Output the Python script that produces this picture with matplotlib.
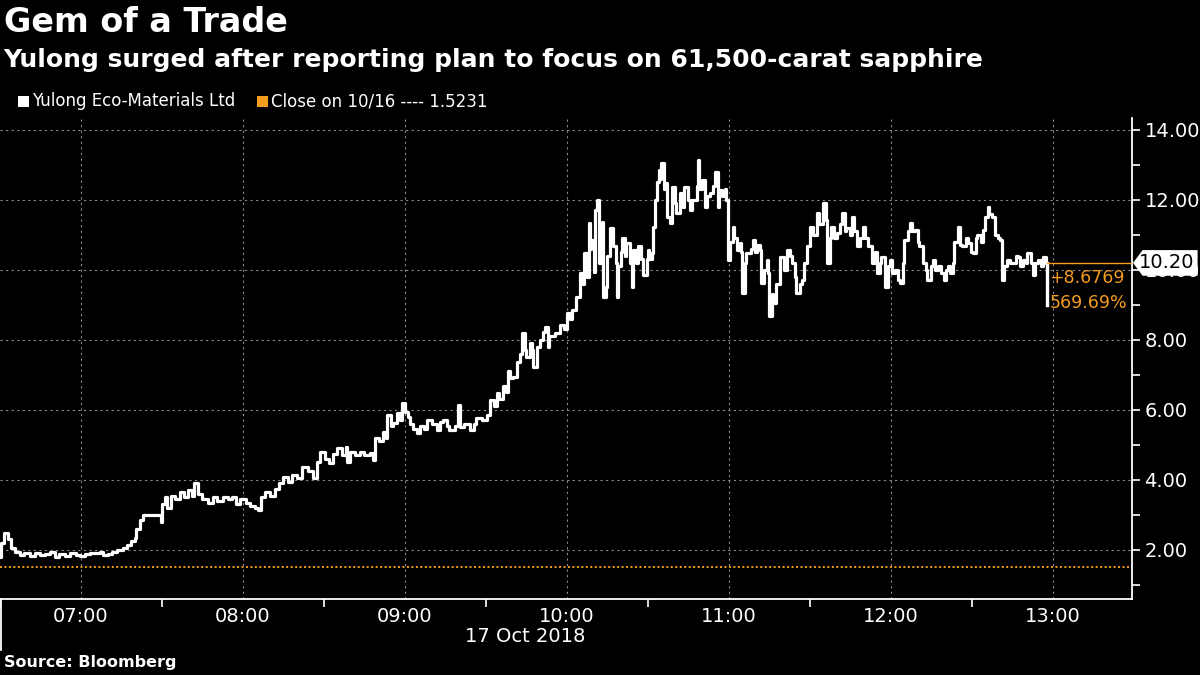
import numpy as np
import matplotlib.pyplot as plt
from matplotlib.patches import Polygon

# minutes after 06:30 and price (USD)
mins = [0, 0.5, 1.5, 3, 4, 5.5, 7.5, 9, 11, 13, 15, 16.5, 18.5, 20.5, 22, 24, 26, 28, 29.5, 31.5,
        33.5, 35, 37, 38, 40, 41.5, 43.5, 45.5, 47, 48.5, 50, 50.5, 52, 53, 58.5, 59.5, 60, 61, 62, 63.5,
        65, 66.5, 68, 69.5, 71, 72, 73.5, 75, 77, 79, 80.5, 82.5, 84.5, 86, 87.5, 89, 91, 92.5, 94.5, 95.5,
        96.5, 98, 100, 102, 103.5, 105, 106.5, 108, 110, 112, 114, 116, 117.5, 118.5, 120.5, 122, 123.5, 125, 126.5, 128,
        128.5, 129.5, 131.5, 133.5, 135, 137, 138, 139, 140.5, 142, 143, 143.5, 145, 145.5, 147, 148, 149, 150,
        151, 152, 153, 154.5, 155.5, 157, 158, 160, 162, 163, 164, 165.5, 166.5, 168.5, 169.5, 170.5, 172, 174,
        175.5, 176.5, 178.5, 180.5, 181.5, 183, 184, 185, 186.5, 187.5, 188, 189, 190, 191.5, 192.5, 193.5, 194.5, 195,
        196.5, 197, 197.5, 199, 200, 201, 202, 203, 203.5, 205.5, 207.5, 209, 210, 211, 212, 213.5, 215, 215.5,
        216.5, 217.5, 218, 218.5, 219, 220, 220.5, 221, 222, 223, 223.5, 224.5, 225, 226, 227, 228, 228.5, 229,
        230, 230.5, 231.5, 232, 233.5, 234, 234.5, 235.5, 236.5, 237.5, 238, 239.5, 240, 240.5, 241.5, 242, 242.5, 243.5,
        244, 244.5, 245, 246, 246.5, 247, 248, 249, 250, 250.5, 252, 253, 253.5, 255, 255.5, 256.5, 258, 258.5,
        259, 260, 261, 262, 263, 264, 265, 266, 266.5, 267.5, 268.5, 269, 269.5, 270.5, 271.5, 272, 273, 274,
        274.5, 275, 276, 276.5, 278, 279, 279.5, 280.5, 281.5, 282, 283, 284, 284.5, 285, 286, 286.5, 287.5, 289,
        290.5, 291.5, 292.5, 293.5, 294.5, 295, 296.5, 297, 298, 299, 300, 301, 302.5, 303.5, 305, 306, 306.5, 307.5,
        308, 309, 310, 311, 312, 313, 313.5, 315, 315.5, 316.5, 317.5, 318.5, 319.5, 320.5, 321.5, 323, 324, 325,
        326, 326.5, 328, 329, 329.5, 330.5, 331.5, 332.5, 333.5, 334.5, 335, 336.5, 337, 338, 339, 340, 340.5, 342,
        343, 343.5, 345, 345.5, 346.5, 347.5, 348.5, 349.5, 350.5, 351, 352, 353, 353.5, 355, 355.5, 356.5, 358, 358.5,
        359.5, 360.5, 361.5, 362, 363.5, 364, 365, 366, 366.5, 367.5, 368.5, 369.5, 370.5, 371, 372, 373, 374, 375,
        376.5, 377, 378, 379, 380, 380.5, 382, 382.5, 383.5, 384.5, 385.5, 386.5, 387.5, 388]
price = [1.81, 2.2, 2.49, 2.3, 2.05, 1.95, 1.85, 1.9, 1.82, 1.9, 1.85, 1.88, 1.95, 1.8, 1.88, 1.82, 1.9, 1.85, 1.82, 1.88,
         1.9, 1.92, 1.95, 1.85, 1.88, 1.95, 2.0, 2.05, 2.15, 2.25, 2.35, 2.6, 2.85, 3.0, 3.0, 2.8, 3.3, 3.5, 3.2, 3.55,
         3.45, 3.65, 3.5, 3.7, 3.55, 3.9, 3.6, 3.45, 3.35, 3.5, 3.4, 3.5, 3.45, 3.5, 3.3, 3.45, 3.35, 3.25, 3.2, 3.15,
         3.5, 3.65, 3.55, 3.75, 3.9, 4.09, 3.95, 4.15, 4.05, 4.38, 4.25, 4.05, 4.5, 4.81, 4.6, 4.48, 4.75, 4.9, 4.7, 4.93,
         4.5, 4.8, 4.7, 4.8, 4.72, 4.78, 4.57, 5.2, 5.1, 5.38, 5.2, 5.86, 5.55, 5.62, 5.9, 5.7, 6.19, 5.95,
         5.8, 5.6, 5.45, 5.33, 5.55, 5.45, 5.71, 5.6, 5.43, 5.65, 5.71, 5.55, 5.43, 5.55, 6.14, 5.52, 5.6, 5.43,
         5.6, 5.76, 5.7, 5.86, 6.29, 6.1, 6.48, 6.3, 6.67, 6.5, 7.1, 6.9, 6.95, 7.38, 7.6, 8.19, 7.7, 7.52,
         7.9, 7.71, 7.24, 7.8, 8.0, 8.24, 8.38, 7.81, 8.1, 8.2, 8.43, 8.3, 8.76, 8.6, 8.86, 9.24, 9.9, 9.6,
         10.48, 9.8, 11.33, 10.6, 10.86, 9.95, 11.71, 12.0, 10.2, 11.38, 9.24, 9.5, 10.4, 11.19, 10.67, 10.2, 9.24, 10.1,
         10.5, 10.9, 10.4, 10.76, 10.2, 9.52, 10.57, 10.2, 10.67, 10.3, 9.86, 10.3, 10.57, 10.3, 10.48, 11.24, 12.0, 12.5,
         12.86, 12.6, 13.05, 12.3, 12.48, 11.52, 11.33, 12.38, 11.9, 11.62, 12.19, 11.8, 12.38, 12.0, 11.71, 12.0, 12.4, 13.14,
         12.3, 12.57, 11.81, 12.1, 12.19, 12.4, 12.81, 11.81, 12.29, 12.1, 12.3, 12.0, 10.29, 10.8, 11.24, 10.9, 10.57, 10.76,
         10.5, 9.33, 10.2, 10.48, 10.6, 10.86, 10.5, 10.7, 10.57, 9.62, 10.0, 10.29, 9.9, 8.67, 9.3, 9.05, 9.6, 10.38,
         10.0, 10.57, 10.4, 10.19, 9.8, 9.33, 9.6, 9.71, 10.2, 10.67, 11.24, 11.0, 11.62, 11.3, 11.9, 11.43, 10.19, 10.9,
         11.24, 10.9, 11.05, 11.3, 11.62, 11.1, 11.2, 11.0, 11.52, 11.1, 10.67, 10.9, 11.24, 10.9, 10.67, 10.19, 10.5, 9.9,
         10.2, 10.38, 9.52, 10.1, 10.29, 9.9, 10.0, 9.7, 9.62, 10.2, 10.86, 11.1, 11.33, 11.1, 11.14, 10.8, 10.67, 10.19,
         10.0, 9.71, 10.1, 10.29, 10.0, 10.1, 9.9, 9.71, 10.0, 10.1, 9.9, 10.19, 10.8, 11.24, 10.7, 10.67, 10.9, 10.76,
         10.5, 10.48, 10.9, 11.0, 10.8, 11.14, 11.5, 11.81, 11.6, 11.5, 11.0, 10.9, 10.86, 9.71, 10.1, 10.29, 10.2, 10.19,
         10.4, 10.38, 10.1, 10.29, 10.2, 10.48, 10.2, 9.86, 10.2, 10.29, 10.1, 10.38, 10.19, 9.0]

prev_close = 1.5231
last_price = 10.20
change = 8.6769
change_pct = 569.69

hour_ticks = [30, 90, 150, 210, 270, 330, 390]
hour_labels = ['07:00', '08:00', '09:00', '10:00', '11:00', '12:00', '13:00']
y_ticks = [2, 4, 6, 8, 10, 12, 14]

orange = '#f39c1f'
bg = 'black'

fig = plt.figure(figsize=(12, 6.75), dpi=100, facecolor=bg)
ax = fig.add_axes([0.0, 0.1126, 0.9433, 0.7126])
ax.set_facecolor(bg)

# grid
for t in hour_ticks:
    ax.axvline(t, color='#8a8a8a', lw=0.8, ls=(0, (2, 3)), zorder=1)
for v in y_ticks:
    ax.axhline(v, color='#8a8a8a', lw=0.8, ls=(0, (2, 3)), zorder=1)

# previous close
ax.axhline(prev_close, color=orange, lw=1.4, ls=(0, (1, 1.3)), zorder=2)

# price line
ax.plot(mins, price, color='white', lw=2.3, drawstyle='steps-post', zorder=3)
ax.plot([mins[-1], mins[-1]], [price[-2], price[-1]], color='white', lw=2.3, zorder=3)

xmax = 419.3
ax.set_xlim(0, xmax)
ax.set_ylim(0.6, 14.34)

# last price marker line + change text
ax.plot([mins[-1], xmax], [last_price, last_price], color=orange, lw=1.0, zorder=4)
ax.text(mins[-1] + 0.8, last_price - 0.17, '+%.4f' % change, color=orange, fontsize=12.5,
        va='top', ha='left', zorder=5)
ax.text(mins[-1] + 0.8, last_price - 0.9, '%.2f%%' % change_pct, color=orange, fontsize=12.5,
        va='top', ha='left', zorder=5)

# spines
for s in ['top', 'left']:
    ax.spines[s].set_visible(False)
ax.spines['bottom'].set_color('white')
ax.spines['right'].set_color('white')
ax.spines['bottom'].set_linewidth(1.3)
ax.spines['right'].set_linewidth(1.3)

ax.yaxis.tick_right()
ax.set_yticks(y_ticks)
ax.set_yticklabels(['%.2f' % v for v in y_ticks])
ax.set_yticks([1, 3, 5, 7, 9, 11, 13], minor=True)
ax.set_xticks(hour_ticks)
ax.set_xticklabels(hour_labels)
ax.set_xticks([0, 60, 120, 180, 240, 300, 360], minor=True)
ax.tick_params(axis='both', which='major', colors='white', labelsize=14, length=6, width=1.2)
ax.tick_params(axis='both', which='minor', colors='white', length=6, width=1.2)
ax.tick_params(axis='x', which='major', length=0, pad=6)
ax.tick_params(axis='y', which='major', pad=3)

# last price box on right axis
bx0 = 1133 / 1200
by = ax.transData.transform((0, last_price))[1] / 675
poly = Polygon([[bx0, by], [bx0 + 0.008, by + 0.019], [0.998, by + 0.019],
                [0.998, by - 0.019], [bx0 + 0.008, by - 0.019]],
               closed=True, transform=fig.transFigure, facecolor='white', edgecolor='none', zorder=10)
fig.patches.append(poly)
fig.text(0.9955, by, '%.2f' % last_price, color='black', fontsize=14, ha='right', va='center', zorder=11)

# day marker and date
fig.add_artist(plt.Line2D([0.001, 0.001], [0.1126, 0.037], color='white', lw=1.3))
fig.text(525 / 1200, 1 - 636 / 675, '17 Oct 2018', color='white', fontsize=14, ha='center', va='center')

# titles
fig.text(0.003, 0.966, 'Gem of a Trade', color='white', fontsize=24, fontweight='bold', va='center')
fig.text(0.003, 0.911, 'Yulong surged after reporting plan to focus on 61,500-carat sapphire',
         color='white', fontsize=18, fontweight='bold', va='center')

# legend
fig.patches.append(plt.Rectangle((18 / 1200, 1 - 107 / 675), 11 / 1200, 11 / 675,
                                 transform=fig.transFigure, facecolor='white'))
fig.text(32 / 1200, 1 - 101 / 675, 'Yulong Eco-Materials Ltd', color='white', fontsize=12, va='center')
fig.patches.append(plt.Rectangle((257 / 1200, 1 - 107 / 675), 11 / 1200, 11 / 675,
                                 transform=fig.transFigure, facecolor=orange))
fig.text(271 / 1200, 1 - 101 / 675, 'Close on 10/16 ---- %.4f' % prev_close, color='white',
         fontsize=12, va='center')

fig.text(0.003, 1 - 663 / 675, 'Source: Bloomberg', color='white', fontsize=11.5,
         fontweight='bold', va='center')

fig.savefig('out.png', dpi=100, facecolor=bg)
